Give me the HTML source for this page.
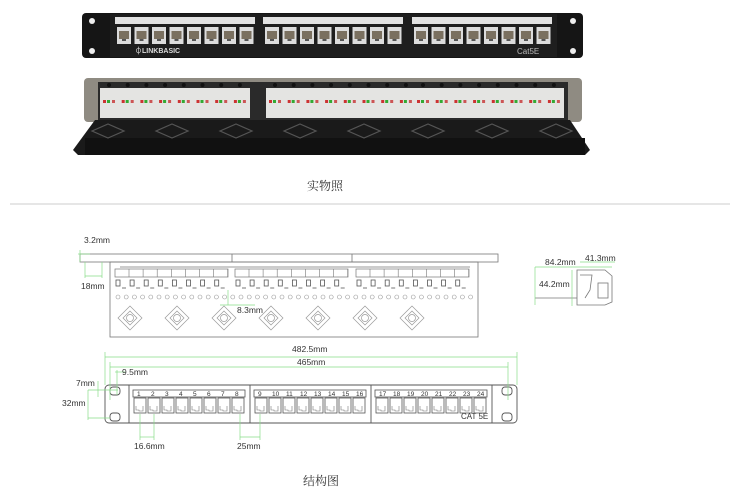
<!DOCTYPE html>
<html><head><meta charset="utf-8"><style>
html,body{margin:0;padding:0;background:#fff;width:730px;height:500px;overflow:hidden}
svg{display:block}
text{font-family:"Liberation Sans",sans-serif}
.cj{font-family:"Liberation Serif","Noto Serif CJK SC",serif}
</style></head><body>
<svg id="s" width="730" height="500" viewBox="0 0 730 500" xmlns="http://www.w3.org/2000/svg">
<rect x="82" y="13" width="501" height="45" rx="4" fill="#151515"/>
<rect x="110" y="14" width="447" height="43" fill="#1e1e1e"/>
<circle cx="92" cy="21" r="3" fill="#eee"/><circle cx="92" cy="51" r="3" fill="#eee"/>
<circle cx="573" cy="21" r="3" fill="#eee"/><circle cx="573" cy="51" r="3" fill="#eee"/>
<g id="fp"></g>
<text x="135" y="53" font-size="7" fill="#ddd" font-weight="bold">⏀LINKBASIC</text>
<text x="517" y="54" font-size="8" fill="#bbb">Cat5E</text>
<rect x="84" y="78" width="498" height="44" rx="4" fill="#8f8b82"/>
<rect x="98" y="82" width="470" height="38" fill="#2a2a2a"/>
<g id="rp"></g>
<polygon points="73,150 95,120 570,120 590,150 585,155 78,155" fill="#1a1a1a"/>
<rect x="85" y="138" width="500" height="17" fill="#111"/>
<g id="tray"></g>
<text class="cj" x="307" y="190" font-size="12" fill="#333">实物照</text>
<line x1="10" y1="204" x2="730" y2="204" stroke="#ccc"/>
<g fill="none" stroke="#777" stroke-width="0.8">
<rect x="80" y="254" width="418" height="8"/>
<rect x="110" y="262" width="368" height="75"/>
<line x1="120" y1="267" x2="470" y2="267"/>
<line x1="232" y1="254" x2="232" y2="262"/><line x1="352" y1="254" x2="352" y2="262"/>
</g>
<g id="d1"></g>
<g stroke="#8d8" stroke-width="0.7" fill="none">
<line x1="80" y1="250" x2="80" y2="262"/><line x1="78" y1="254" x2="90" y2="254"/>
<line x1="85" y1="262" x2="85" y2="278"/><line x1="102" y1="262" x2="102" y2="278"/><line x1="85" y1="276" x2="102" y2="276"/>
<line x1="228" y1="290" x2="228" y2="305"/><line x1="220" y1="305" x2="255" y2="305"/>
</g>
<text x="84" y="243" font-size="8.5" fill="#333">3.2mm</text>
<text x="81" y="289" font-size="8.5" fill="#333">18mm</text>
<text x="237" y="313" font-size="8.5" fill="#333">8.3mm</text>
<g fill="none" stroke="#777" stroke-width="0.8">
<line x1="535" y1="298" x2="577" y2="298"/>
<path d="M577,270 L605,270 L612,276 L612,302 L605,305 L577,305 Z"/>
<rect x="598" y="283" width="10" height="15"/>
<path d="M580,275 L592,275 L590,290 L585,298"/>
</g>
<g stroke="#8d8" stroke-width="0.7" fill="none">
<line x1="535" y1="267" x2="612" y2="267"/><line x1="580" y1="262" x2="615" y2="262"/>
<line x1="535" y1="267" x2="535" y2="305"/><line x1="572" y1="270" x2="572" y2="306"/>
</g>
<text x="545" y="265" font-size="8.5" fill="#333">84.2mm</text>
<text x="585" y="261" font-size="8.5" fill="#333">41.3mm</text>
<text x="539" y="287" font-size="8.5" fill="#333">44.2mm</text>
<g fill="none" stroke="#555" stroke-width="0.9">
<rect x="105" y="385" width="412" height="38" rx="4"/>
<line x1="129" y1="385" x2="129" y2="423"/><line x1="492" y1="385" x2="492" y2="423"/>
<line x1="250" y1="385" x2="250" y2="423"/><line x1="371" y1="385" x2="371" y2="423"/>
<rect x="110" y="387" width="10" height="8" rx="3"/><rect x="110" y="413" width="10" height="8" rx="3"/>
<rect x="502" y="387" width="10" height="8" rx="3"/><rect x="502" y="413" width="10" height="8" rx="3"/>
</g>
<g id="d2"></g>
<g stroke="#8d8" stroke-width="0.7" fill="none">
<line x1="105" y1="352" x2="105" y2="385"/><line x1="517" y1="352" x2="517" y2="385"/><line x1="105" y1="357" x2="517" y2="357"/>
<line x1="110" y1="362" x2="110" y2="400"/><line x1="508" y1="362" x2="508" y2="400"/><line x1="110" y1="367" x2="508" y2="367"/>
<line x1="115" y1="372" x2="125" y2="372"/><line x1="117" y1="370" x2="117" y2="395"/>
<line x1="98" y1="381" x2="98" y2="397"/><line x1="88" y1="390" x2="118" y2="390"/>
<line x1="88" y1="390" x2="88" y2="420"/><line x1="88" y1="418" x2="110" y2="418"/>
<line x1="140" y1="414" x2="140" y2="440"/><line x1="154" y1="414" x2="154" y2="440"/><line x1="140" y1="437" x2="154" y2="437"/>
<line x1="240" y1="414" x2="240" y2="440"/><line x1="260" y1="414" x2="260" y2="440"/><line x1="240" y1="437" x2="260" y2="437"/>
</g>
<text x="292" y="352" font-size="8.5" fill="#333">482.5mm</text>
<text x="297" y="365" font-size="8.5" fill="#333">465mm</text>
<text x="122" y="375" font-size="8.5" fill="#333">9.5mm</text>
<text x="76" y="386" font-size="8.5" fill="#333">7mm</text>
<text x="62" y="406" font-size="8.5" fill="#333">32mm</text>
<text x="134" y="449" font-size="8.5" fill="#333">16.6mm</text>
<text x="237" y="449" font-size="8.5" fill="#333">25mm</text>
<text x="461" y="419" font-size="8" fill="#333">CAT 5E</text>
<text class="cj" x="303" y="485" font-size="12" fill="#333">结构图</text>
</svg>
<script>
var NS="http://www.w3.org/2000/svg";
function el(p,t,a,txt){var e=document.createElementNS(NS,t);for(var k in a)e.setAttribute(k,a[k]);if(txt!=null)e.textContent=txt;document.getElementById(p).appendChild(e);return e;}
[115,263,412].forEach(function(gx){
 el("fp","rect",{x:gx,y:17,width:140,height:7,fill:"#e2e2e2"});
 for(var i=0;i<8;i++){var x=gx+2+i*17.5;
  el("fp","rect",{x:x,y:27,width:14,height:17,fill:"#dcdcdc"});
  el("fp","rect",{x:x+2,y:31,width:10,height:8,fill:"#7a7060"});
  el("fp","rect",{x:x+5,y:39,width:4,height:2,fill:"#555"});}
});
[100,266,414].forEach(function(gx){
 el("rp","rect",{x:gx,y:88,width:150,height:30,fill:"#e4e4e2"});
 for(var i=0;i<8;i++){var x=gx+i*18.7;
  el("rp","rect",{x:x+3,y:100,width:3,height:3,fill:"#c33"});
  el("rp","rect",{x:x+7,y:100,width:3,height:3,fill:"#3a3"});
  el("rp","rect",{x:x+12,y:100,width:3,height:3,fill:"#c55"});
  el("rp","circle",{cx:x+9,cy:85,r:2,fill:"#111"});}
});
for(var i=0;i<8;i++){var cx=108+i*64;
 el("tray","polygon",{points:(cx-16)+",131 "+cx+",124 "+(cx+16)+",131 "+cx+",138",fill:"none",stroke:"#555","stroke-width":1.2});}
[115,235,356].forEach(function(gx){
 el("d1","rect",{x:gx,y:269,width:113,height:8,fill:"none",stroke:"#777","stroke-width":0.7});
 for(var i=0;i<8;i++){var x=gx+i*14.1;
  el("d1","rect",{x:x+1,y:280,width:4,height:6,fill:"none",stroke:"#555","stroke-width":0.8});
  el("d1","line",{x1:x+7,y1:288,x2:x+11,y2:288,stroke:"#555","stroke-width":0.8});
  el("d1","line",{x1:x+14,y1:269,x2:x+14,y2:277,stroke:"#777","stroke-width":0.6});}
});
for(var i=0;i<44;i++){var x=118+i*8.2;el("d1","circle",{cx:x,cy:297,r:2,fill:"none",stroke:"#999","stroke-width":0.6});}
for(var i=0;i<7;i++){var cx=130+i*47,cy=318;
 el("d1","circle",{cx:cx,cy:cy,r:3.5,fill:"none",stroke:"#999","stroke-width":0.7});
 el("d1","polygon",{points:(cx-12)+","+cy+" "+cx+","+(cy-12)+" "+(cx+12)+","+cy+" "+cx+","+(cy+12),fill:"none",stroke:"#999","stroke-width":0.7});
 el("d1","polygon",{points:(cx-7)+","+cy+" "+cx+","+(cy-7)+" "+(cx+7)+","+cy+" "+cx+","+(cy+7),fill:"none",stroke:"#999","stroke-width":0.7});}
[[133,1],[254,9],[375,17]].forEach(function(g){var gx=g[0];
 el("d2","rect",{x:gx,y:390,width:112,height:7,fill:"none",stroke:"#555","stroke-width":0.8});
 for(var i=0;i<8;i++){var x=gx+i*14;
  el("d2","text",{x:x+4,y:396,"font-size":6.5,fill:"#333"},String(g[1]+i));
  el("d2","rect",{x:x+1,y:398,width:12,height:15,fill:"none",stroke:"#555","stroke-width":0.8});
  el("d2","path",{d:"M"+(x+3)+",406 l0,4 l3,0 l0,1 l4,0 l0,-5",fill:"none",stroke:"#777","stroke-width":0.6});}
});
</script>
</body></html>
